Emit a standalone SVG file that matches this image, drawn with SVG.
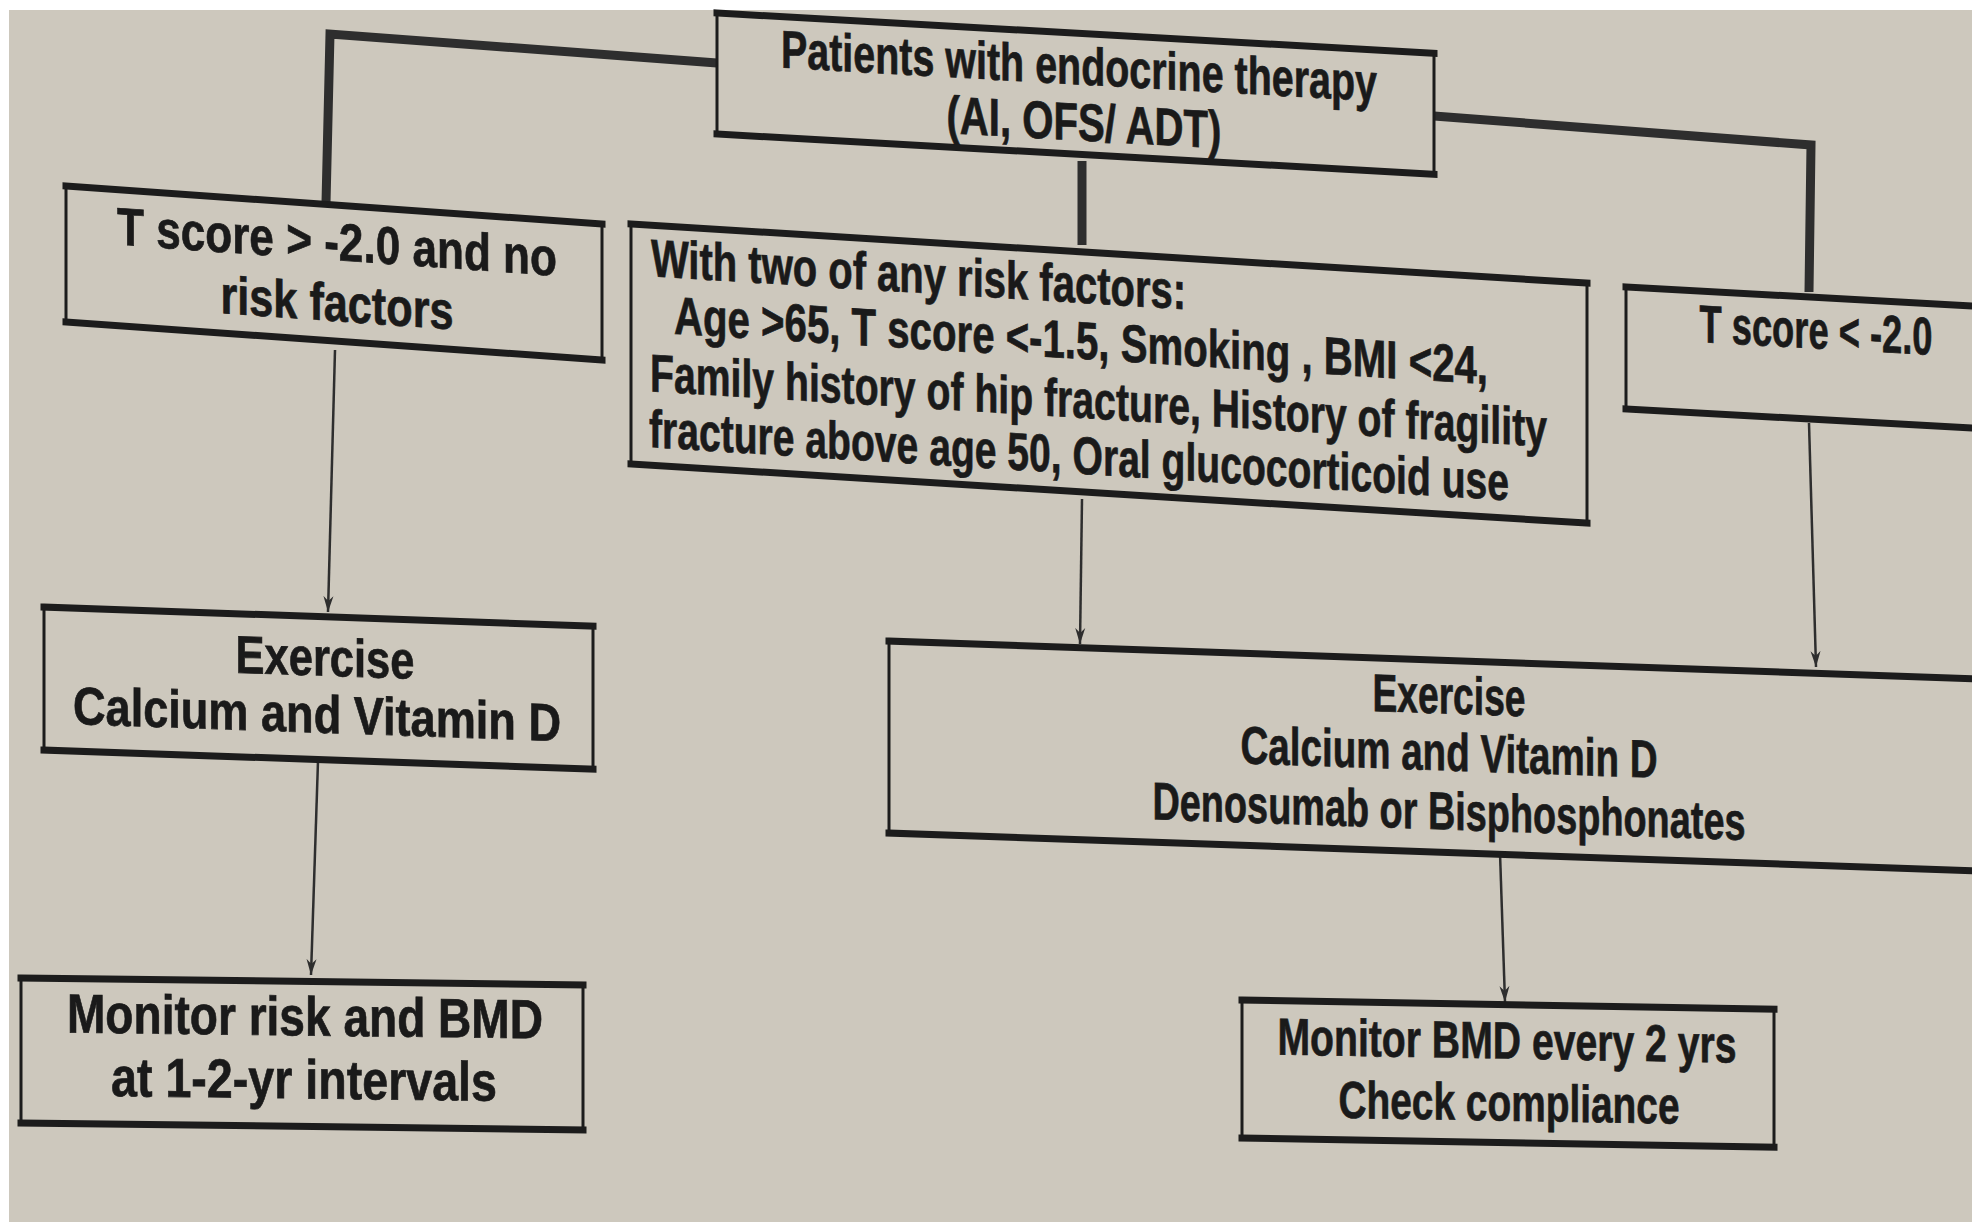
<svg xmlns="http://www.w3.org/2000/svg" width="1972" height="1229" viewBox="0 0 1972 1229">
<style>
.bx{fill:none;stroke:#1c1c1c;stroke-width:3}
.ed{stroke:#1c1c1c;stroke-width:7;stroke-linecap:square}
.t{font-family:"Liberation Sans Narrow","Liberation Sans",Arial,sans-serif;font-weight:bold;font-size:53px;fill:#1a1a1a;stroke:#1a1a1a;stroke-width:0.7}
.tc{text-anchor:middle}
.big{font-size:55px}
.mid{font-size:52px}
.thick{fill:none;stroke:#2e2e2e;stroke-width:9;stroke-linejoin:miter}
.thin{fill:none;stroke:#2e2e2e;stroke-width:2.5;marker-end:url(#ah)}
</style>
<defs>
<marker id="ah" markerUnits="userSpaceOnUse" markerWidth="18" markerHeight="12" refX="16" refY="6" orient="auto" viewBox="0 0 18 12">
<path d="M0,1 L16,6 L0,11 L5,6 Z" fill="#2e2e2e"/>
</marker>
</defs>
<rect x="0" y="0" width="1972" height="1229" fill="#ffffff"/>
<rect x="9" y="10" width="1963" height="1212" fill="#cdc8bd"/>

<g id="connectors">
<polyline class="thick" points="717,63 330,34 326,203"/>
<polyline class="thick" points="1434,116 1811,145 1809,292"/>
<line class="thick" x1="1082" y1="161" x2="1082" y2="245"/>
<line class="thin" x1="335" y1="350" x2="328" y2="612"/>
<line class="thin" x1="318" y1="761" x2="311" y2="975"/>
<line class="thin" x1="1082" y1="499" x2="1080" y2="644"/>
<line class="thin" x1="1809" y1="423" x2="1816" y2="667"/>
<line class="thin" x1="1500" y1="853" x2="1505" y2="1002"/>
</g>

<g id="n-top" transform="translate(717,0) skewY(3.22) translate(-717,0)">
<rect class="bx" x="717" y="13" width="717" height="121"/>
<line class="ed" x1="717" y1="13" x2="1434" y2="13"/>
<line class="ed" x1="717" y1="134" x2="1434" y2="134"/>
<text class="t tc" x="1079" y="64" textLength="596" lengthAdjust="spacingAndGlyphs">Patients with endocrine therapy</text>
<text class="t tc" x="1084" y="120" textLength="275" lengthAdjust="spacingAndGlyphs">(AI, OFS/ ADT)</text>
</g>

<g id="n-low" transform="translate(66,0) skewY(4.06) translate(-66,0)">
<rect class="bx" x="66" y="186" width="536" height="136"/>
<line class="ed" x1="66" y1="186" x2="602" y2="186"/>
<line class="ed" x1="66" y1="322" x2="602" y2="322"/>
<text class="t tc" x="337" y="241" textLength="440" lengthAdjust="spacingAndGlyphs">T score &gt; -2.0 and no</text>
<text class="t tc" x="337" y="302" textLength="233" lengthAdjust="spacingAndGlyphs">risk factors</text>
</g>

<g id="n-risk" transform="translate(631,0) skewY(3.54) translate(-631,0)">
<rect class="bx" x="631" y="224" width="956" height="240"/>
<line class="ed" x1="631" y1="224" x2="1587" y2="224"/>
<line class="ed" x1="631" y1="464" x2="1587" y2="464"/>
<text class="t" x="651" y="275" textLength="535" lengthAdjust="spacingAndGlyphs">With two of any risk factors:</text>
<text class="t" x="674" y="331" textLength="814" lengthAdjust="spacingAndGlyphs">Age &gt;65, T score &lt;-1.5, Smoking , BMI &lt;24,</text>
<text class="t" x="650" y="390" textLength="897" lengthAdjust="spacingAndGlyphs">Family history of hip fracture, History of fragility</text>
<text class="t" x="649" y="446" textLength="860" lengthAdjust="spacingAndGlyphs">fracture above age 50, Oral glucocorticoid use</text>
</g>

<g id="n-high" transform="translate(1626,0) skewY(3.15) translate(-1626,0)">
<rect class="bx" x="1626" y="287" width="420" height="122"/>
<line class="ed" x1="1626" y1="287" x2="2046" y2="287"/>
<line class="ed" x1="1626" y1="409" x2="2046" y2="409"/>
<text class="t tc" x="1816" y="338" textLength="233" lengthAdjust="spacingAndGlyphs">T score &lt; -2.0</text>
</g>

<g id="n-basic" transform="translate(44,0) skewY(2.0) translate(-44,0)">
<rect class="bx" x="44" y="607" width="549" height="143"/>
<line class="ed" x1="44" y1="607" x2="593" y2="607"/>
<line class="ed" x1="44" y1="750" x2="593" y2="750"/>
<text class="t tc" x="325" y="666" textLength="179" lengthAdjust="spacingAndGlyphs">Exercise</text>
<text class="t tc" x="317" y="723" textLength="488" lengthAdjust="spacingAndGlyphs">Calcium and Vitamin D</text>
</g>

<g id="n-mon1" transform="translate(21,0) skewY(0.7) translate(-21,0)">
<rect class="bx" x="21" y="978" width="562" height="145"/>
<line class="ed" x1="21" y1="978" x2="583" y2="978"/>
<line class="ed" x1="21" y1="1123" x2="583" y2="1123"/>
<text class="t tc big" x="305" y="1032" textLength="476" lengthAdjust="spacingAndGlyphs">Monitor risk and BMD</text>
<text class="t tc big" x="304" y="1095" textLength="386" lengthAdjust="spacingAndGlyphs">at 1-2-yr intervals</text>
</g>

<g id="n-treat" transform="translate(889,0) skewY(2.0) translate(-889,0)">
<rect class="bx" x="889" y="641" width="1120" height="192"/>
<line class="ed" x1="889" y1="641" x2="2009" y2="641"/>
<line class="ed" x1="889" y1="833" x2="2009" y2="833"/>
<text class="t tc" x="1449" y="694" textLength="153" lengthAdjust="spacingAndGlyphs">Exercise</text>
<text class="t tc" x="1449" y="751" textLength="417" lengthAdjust="spacingAndGlyphs">Calcium and Vitamin D</text>
<text class="t tc" x="1449" y="810" textLength="593" lengthAdjust="spacingAndGlyphs">Denosumab or Bisphosphonates</text>
</g>

<g id="n-mon2" transform="translate(1242,0) skewY(1.0) translate(-1242,0)">
<rect class="bx" x="1242" y="1000" width="532" height="138"/>
<line class="ed" x1="1242" y1="1000" x2="1774" y2="1000"/>
<line class="ed" x1="1242" y1="1138" x2="1774" y2="1138"/>
<text class="t tc mid" x="1507" y="1054" textLength="459" lengthAdjust="spacingAndGlyphs">Monitor BMD every 2 yrs</text>
<text class="t tc mid" x="1509" y="1116" textLength="341" lengthAdjust="spacingAndGlyphs">Check compliance</text>
</g>
</svg>
